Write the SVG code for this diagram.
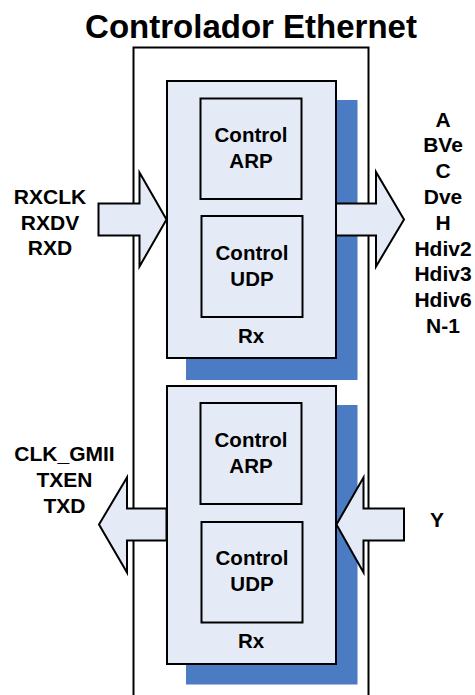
<svg xmlns="http://www.w3.org/2000/svg" width="475" height="695" viewBox="0 0 475 695">
<style>
text{font-family:"Liberation Sans",Arial,sans-serif;font-weight:bold;fill:#000;text-anchor:middle}
.t{font-size:33px}
.l{font-size:20.5px}
.s{font-size:21px}
.box{fill:#E5EBF6;stroke:#000;stroke-width:2}
.outer{fill:#fff;stroke:#000;stroke-width:2}
.shadow{fill:#4A7BC3}
.arrow{fill:#E5EBF6;stroke:#000;stroke-width:2;stroke-linejoin:miter}
</style>
<rect width="475" height="695" fill="#fff"/>
<g id="controlador">
<rect class="outer" x="133.5" y="47.5" width="235" height="660"/>
<text class="t" x="251" y="38">Controlador Ethernet</text>
</g>
<g id="rx1">
<rect class="shadow" x="186" y="100" width="171.5" height="280"/>
<rect class="box" x="167" y="81" width="169" height="277"/>
<text class="l" x="251" y="343">Rx</text>
</g>
<g id="arp1">
<rect class="box" x="200.5" y="98.5" width="101" height="100.5"/>
<text class="l" x="251" y="142">Control</text>
<text class="l" x="251" y="168">ARP</text>
</g>
<g id="udp1">
<rect class="box" x="201.5" y="216" width="101" height="101"/>
<text class="l" x="252" y="260">Control</text>
<text class="l" x="252" y="286">UDP</text>
</g>
<g id="rx2">
<rect class="shadow" x="186" y="405" width="171.5" height="279.5"/>
<rect class="box" x="167" y="386" width="169" height="278"/>
<text class="l" x="251" y="648">Rx</text>
</g>
<g id="arp2">
<rect class="box" x="200.5" y="403" width="101" height="101"/>
<text class="l" x="251" y="447">Control</text>
<text class="l" x="251" y="473">ARP</text>
</g>
<g id="udp2">
<rect class="box" x="201.5" y="522" width="101" height="100.5"/>
<text class="l" x="252" y="564.5">Control</text>
<text class="l" x="252" y="590.5">UDP</text>
</g>
<g id="connectors">
<polygon class="arrow" points="98.5,203.5 139.5,203.5 139.5,172.5 166.5,219.5 139.5,266.5 139.5,235.5 98.5,235.5"/>
<polygon class="arrow" points="336,203.5 376,203.5 376,172 404,219.5 376,266.5 376,235.5 336,235.5"/>
<polygon class="arrow" points="166.5,508.5 127,508.5 127,477.5 99,524.5 127,572.5 127,540.5 166.5,540.5"/>
<polygon class="arrow" points="404,508.5 363.5,508.5 363.5,477.5 336.5,524.5 363.5,572.5 363.5,540.5 404,540.5"/>
</g>
<g id="rx-in-labels">
<text class="s" x="50" y="203.5">RXCLK</text>
<text class="s" x="50" y="229.5">RXDV</text>
<text class="s" x="50" y="255">RXD</text>
</g>
<g id="rx-out-labels">
<text class="s" x="443" y="126.5">A</text>
<text class="s" x="443" y="152.3">BVe</text>
<text class="s" x="443" y="178.1">C</text>
<text class="s" x="443" y="203.9">Dve</text>
<text class="s" x="443" y="229.7">H</text>
<text class="s" x="443" y="255.5">Hdiv2</text>
<text class="s" x="443" y="281.3">Hdiv3</text>
<text class="s" x="443" y="307.1">Hdiv6</text>
<text class="s" x="443" y="332.9">N-1</text>
</g>
<g id="tx-out-labels">
<text class="s" x="64.5" y="461">CLK_GMII</text>
<text class="s" x="64.5" y="487">TXEN</text>
<text class="s" x="64.5" y="512.5">TXD</text>
</g>
<g id="tx-in-label">
<text class="s" x="437" y="527">Y</text>
</g>
</svg>
